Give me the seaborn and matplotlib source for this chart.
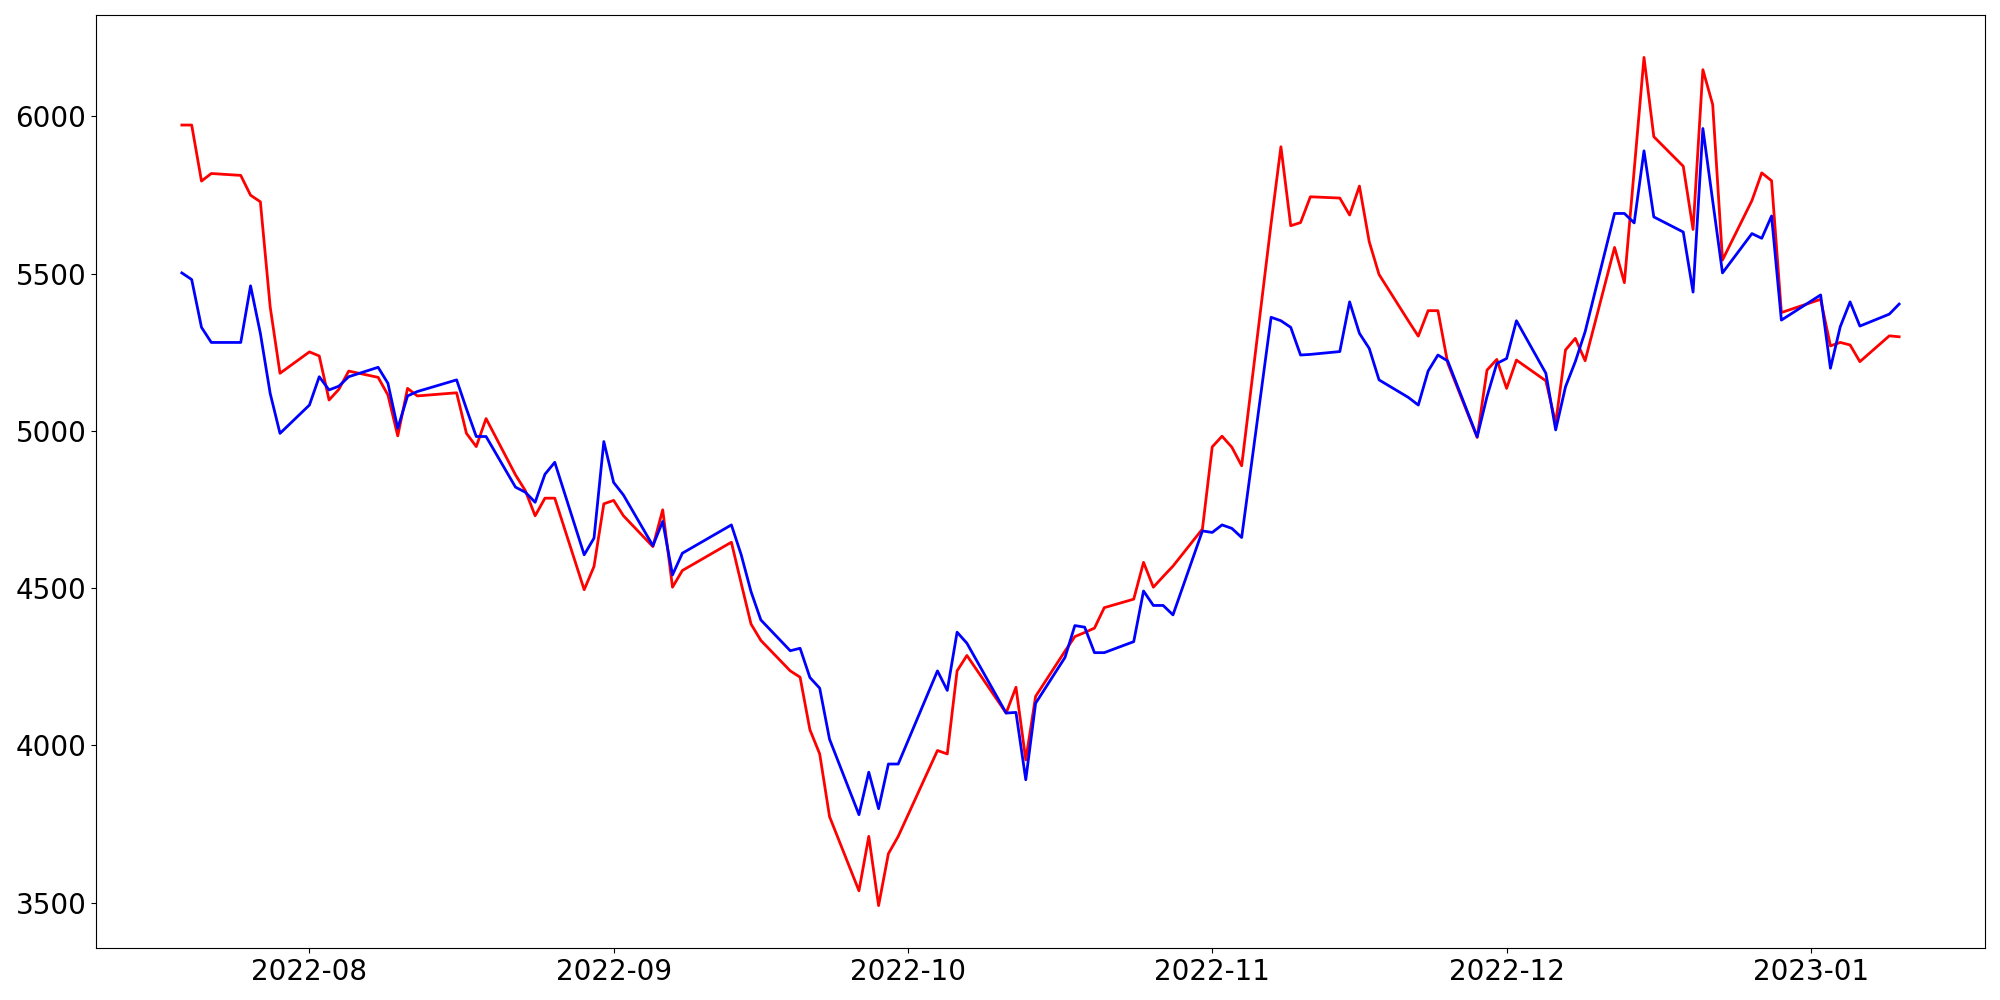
# Import libraries
import pandas as pd
import matplotlib
matplotlib.use('Agg')
import matplotlib.pyplot as plt
import matplotlib.dates as mdates
import seaborn as sns

# Trading calendar (business days without market holidays)
start_date = '2022-07-19'
end_date = '2023-01-10'
holidays = ['2022-08-15', '2022-09-09', '2022-09-12', '2022-10-03',
            '2022-10-10', '2022-12-30']

# Series values
red_values = [
    5972, 5972, 5794, 5818, 5812, 5749, 5728, 5394, 5183,
    5251, 5238, 5098, 5132, 5190, 5170, 5114, 4984, 5135, 5111,
    5121, 4992, 4950, 5039, 4860, 4810, 4730, 4786, 4786, 4495, 4569, 4768,
    4779, 4730, 4632, 4749, 4503, 4556, 4646, 4515, 4386, 4334,
    4237, 4217, 4050, 3973, 3774, 3538, 3711, 3491, 3656, 3711,
    3984, 3973, 4237, 4286, 4103, 4185, 3954, 4156, 4300, 4346,
    4359, 4373, 4438, 4465, 4582, 4503, 4537, 4570, 4688,
    4949, 4983, 4948, 4889, 5659, 5903, 5652, 5662, 5744, 5740,
    5686, 5778, 5601, 5497, 5349, 5301, 5382, 5382, 5215, 4979, 5193, 5227,
    5135, 5225, 5159, 5024, 5257, 5294, 5223, 5583, 5471, 5829,
    6187, 5935, 5841, 5640, 6148, 6037, 5543, 5732, 5820, 5795, 5376,
    5418, 5270, 5281, 5273, 5220, 5302, 5299,
]
blue_values = [
    5502, 5481, 5329, 5281, 5281, 5461, 5310, 5119, 4992,
    5082, 5172, 5130, 5142, 5172, 5202, 5151, 5008, 5111, 5125,
    5162, 5070, 4982, 4982, 4821, 4805, 4773, 4862, 4900, 4606, 4659, 4966,
    4836, 4796, 4635, 4712, 4542, 4611, 4701, 4606, 4489, 4399,
    4301, 4309, 4216, 4182, 4020, 3780, 3915, 3799, 3941, 3941,
    4237, 4175, 4360, 4325, 4103, 4105, 3891, 4134, 4280, 4381,
    4376, 4295, 4295, 4330, 4491, 4445, 4445, 4415, 4682,
    4677, 4701, 4690, 4661, 5361, 5350, 5329, 5241, 5243, 5252,
    5410, 5310, 5262, 5162, 5106, 5082, 5190, 5241, 5222, 4981, 5109, 5214,
    5230, 5350, 5183, 5003, 5140, 5220, 5315, 5691, 5691, 5661,
    5890, 5680, 5632, 5441, 5961, 5731, 5502, 5627, 5612, 5683, 5352,
    5432, 5199, 5331, 5410, 5333, 5371, 5403,
]

dates = pd.bdate_range(start_date, end_date, freq='C', holidays=holidays)
df = pd.DataFrame({'date': dates, 'red': red_values, 'blue': blue_values})

# Plot both series
fig, ax = plt.subplots(1, 1, figsize=(20, 10), dpi=100)
sns.lineplot(data=df, x='date', y='red', color='red', linewidth=2, ax=ax)
sns.lineplot(data=df, x='date', y='blue', color='blue', linewidth=2, ax=ax)
ax.set_xlabel('')
ax.set_ylabel('')
ax.xaxis.set_major_locator(mdates.MonthLocator())
ax.xaxis.set_major_formatter(mdates.DateFormatter('%Y-%m'))
ax.tick_params(axis='both', labelsize=20)
plt.subplots_adjust(left=0.048, right=0.9925, bottom=0.052, top=0.985)
plt.savefig('out.png', dpi=100)
